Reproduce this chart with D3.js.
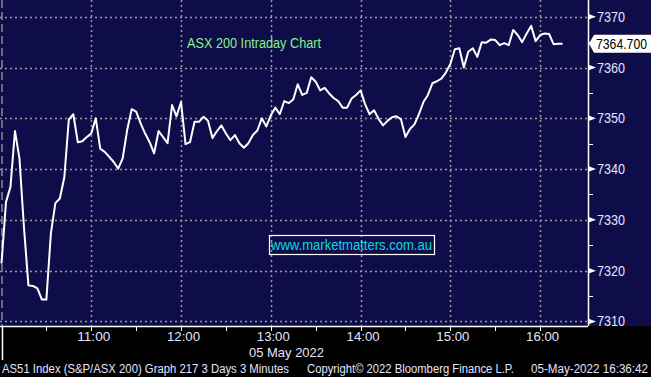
<!DOCTYPE html>
<html>
<head>
<meta charset="utf-8">
<script src="https://cdn.jsdelivr.net/npm/d3@7"></script>
<style>
  body { margin: 0; background: #000; }
  text { font-family: "Liberation Sans", Arial, sans-serif; }
</style>
</head>
<body>
<svg id="chart"></svg>
<script>
// 3 minute bars, 05 May 2022, starting 10:00
const startTime = "2022-05-05 10:00";
const stepMinutes = 3;
const closes = [
  7321.4, 7333.5, 7336.5, 7347.5, 7342.1, 7328.6, 7317.1, 7317.0, 7316.5, 7314.3,
  7314.3, 7327.3, 7333.3, 7334.2, 7338.4, 7349.8, 7350.8, 7345.3, 7345.5, 7346.3,
  7347.0, 7350.0, 7344.0, 7343.4, 7342.4, 7341.4, 7340.1, 7342.1, 7347.7, 7351.8,
  7351.3, 7349.0, 7347.0, 7345.3, 7343.1, 7347.5, 7346.3, 7345.1, 7352.6, 7350.4,
  7353.2, 7344.9, 7345.3, 7349.3, 7349.3, 7350.3, 7349.5, 7346.1, 7347.5, 7348.6,
  7347.0, 7345.7, 7346.7, 7345.1, 7344.2, 7345.1, 7346.7, 7347.6, 7350.0, 7348.4,
  7350.6, 7352.1, 7350.8, 7353.4, 7353.0, 7353.7, 7356.7, 7354.6, 7355.0, 7358.1,
  7357.2, 7355.5, 7356.0, 7354.9, 7354.0, 7353.4, 7352.1, 7352.1, 7353.9, 7354.6,
  7355.5, 7352.8, 7350.8, 7351.6, 7349.9, 7348.6, 7349.5, 7350.2, 7350.4, 7349.8,
  7346.3, 7347.9, 7348.8, 7350.8, 7353.2, 7354.6, 7356.9, 7357.3, 7357.8, 7359.0,
  7360.7, 7363.6, 7363.8, 7360.0, 7363.1, 7363.8, 7362.1, 7365.0, 7364.9, 7365.5,
  7365.4, 7364.4, 7364.8, 7364.4, 7367.4, 7366.4, 7365.0, 7366.7, 7368.2, 7365.2,
  7366.4, 7366.7, 7366.6, 7364.6, 7364.7, 7364.7
];

const yTicks = [7310, 7320, 7330, 7340, 7350, 7360, 7370];
const yMinorTicks = [7315, 7325, 7335, 7345, 7355, 7365];
const hourLabels = ["11:00", "12:00", "13:00", "14:00", "15:00", "16:00"];
const halfHours = ["10:30", "11:30", "12:30", "13:30", "14:30", "15:30"];
const dateLabel = "05 May 2022";
const title = "ASX 200 Intraday Chart";
const watermark = "www.marketmatters.com.au";
const footerLeft = "AS51 Index (S&P/ASX 200) Graph 217 3 Days 3 Minutes";
const footerMid = "Copyright\u00a9 2022 Bloomberg Finance L.P.";
const footerRight = "05-May-2022 16:36:42";

const W = 651, H = 377;
const plotW = 588, plotH = 326;

const parse = d3.timeParse("%Y-%m-%d %H:%M");
const parseHM = s => parse("2022-05-05 " + s);
const t0 = parse(startTime);
const data = closes.map((v, i) => ({ t: d3.timeMinute.offset(t0, i * stepMinutes), v }));

const svg = d3.select("#chart").attr("width", W).attr("height", H);

const x = d3.scaleTime()
    .domain([parseHM("09:59"), parseHM("16:32")])
    .range([0, plotW]);
const y = d3.scaleLinear()
    .domain([7309.1, 7373.3])
    .range([plotH, 0]);

// Bloomberg font is condensed: squeeze text to the given width
function squeeze(sel, w) {
    sel.attr("textLength", w).attr("lengthAdjust", "spacingAndGlyphs");
}

// backgrounds
svg.append("rect").attr("width", W).attr("height", H).attr("fill", "#000");
svg.append("rect").attr("width", W).attr("height", plotH).attr("fill", "#0f0d49");

// grid
const grid = svg.append("g").attr("stroke", "#9a9a9a").attr("stroke-width", 1.5)
    .attr("stroke-dasharray", "2,3");
grid.selectAll(".hg").data(yTicks).enter().append("line")
    .attr("x1", 0).attr("x2", plotW)
    .attr("y1", d => Math.round(y(d)) + 0.5).attr("y2", d => Math.round(y(d)) + 0.5);
grid.selectAll(".vg").data(hourLabels).enter().append("line")
    .attr("y1", 0).attr("y2", plotH)
    .attr("x1", d => Math.round(x(parseHM(d))) + 0.5).attr("x2", d => Math.round(x(parseHM(d))) + 0.5);

// session start marker
svg.append("line")
    .attr("x1", Math.round(x(t0)) + 1).attr("x2", Math.round(x(t0)) + 1)
    .attr("y1", 0).attr("y2", plotH)
    .attr("stroke", "#8a8a8a").attr("stroke-width", 1.5)
    .attr("stroke-dasharray", "8,4");

// title + watermark
svg.append("text").attr("x", 187).attr("y", 48)
    .attr("fill", "#86f086").style("font-size", "14px").text(title)
    .call(squeeze, 134);

svg.append("rect").attr("x", 269.5).attr("y", 235.5).attr("width", 165).attr("height", 19)
    .attr("fill", "none").attr("stroke", "#fff").attr("stroke-width", 1.2);
svg.append("text").attr("x", 271).attr("y", 250)
    .attr("fill", "#10d8e0").style("font-size", "14px").text(watermark)
    .call(squeeze, 161);

// price line
const line = d3.line().x(d => x(d.t)).y(d => y(d.v));
svg.append("path").datum(data)
    .attr("d", line)
    .attr("fill", "none")
    .attr("stroke", "#fff")
    .attr("stroke-width", 2)
    .attr("stroke-linejoin", "round");

// right axis
const yAxis = svg.append("g").attr("transform", `translate(${plotW},0)`);
yAxis.append("line").attr("x1", 0.5).attr("x2", 0.5).attr("y1", 0).attr("y2", plotH)
    .attr("stroke", "#fff").attr("stroke-width", 1.5);
yAxis.selectAll(".minor").data(yMinorTicks).enter().append("line")
    .attr("x1", 0).attr("x2", 5)
    .attr("y1", d => Math.round(y(d)) + 0.5).attr("y2", d => Math.round(y(d)) + 0.5)
    .attr("stroke", "#fff").attr("stroke-width", 1);
const ytick = yAxis.selectAll(".ytick").data(yTicks).enter().append("g")
    .attr("transform", d => `translate(0,${y(d)})`);
ytick.append("path").attr("d", "M0,-3L8,0L0,3Z").attr("fill", "#fff");
ytick.append("text").attr("x", 9).attr("dy", "0.36em")
    .attr("fill", "#e4e4ff").style("font-size", "14px").text(d => d)
    .call(squeeze, 28);

// last price label
const last = closes[closes.length - 1];
const ly = y(last);
svg.append("path")
    .attr("d", `M${plotW + 1},${ly} L${plotW + 6},${ly - 9} L${W},${ly - 9} L${W},${ly + 9} L${plotW + 6},${ly + 9} Z`)
    .attr("fill", "#fff");
svg.append("text").attr("x", plotW + 8).attr("y", ly).attr("dy", "0.36em")
    .attr("fill", "#000").style("font-size", "14px").text(last.toFixed(3))
    .call(squeeze, 51);

// bottom axis
const xAxis = svg.append("g").attr("transform", `translate(0,${plotH})`);
xAxis.append("line").attr("x1", 0).attr("x2", plotW).attr("y1", 0.5).attr("y2", 0.5)
    .attr("stroke", "#fff").attr("stroke-width", 1.5);
xAxis.selectAll(".xt").data(hourLabels.concat(halfHours)).enter().append("line")
    .attr("x1", d => Math.round(x(parseHM(d))) + 0.5).attr("x2", d => Math.round(x(parseHM(d))) + 0.5)
    .attr("y1", 0).attr("y2", 5)
    .attr("stroke", "#fff").attr("stroke-width", 1);
xAxis.selectAll(".xl").data(hourLabels).enter().append("text")
    .attr("x", d => x(parseHM(d)) - 14).attr("y", 15)
    .attr("fill", "#e4e4ff").style("font-size", "13px").text(d => d)
    .call(squeeze, 33);
// day divider
xAxis.append("line").attr("x1", Math.round(x(t0)) + 1.5).attr("x2", Math.round(x(t0)) + 1.5)
    .attr("y1", 0).attr("y2", 34).attr("stroke", "#fff").attr("stroke-width", 1.5);
svg.append("text").attr("x", 249).attr("y", 357)
    .attr("fill", "#e4e4ff").style("font-size", "13px").text(dateLabel)
    .call(squeeze, 75);

// footer
const foot = svg.append("g").attr("fill", "#e4e4ff").style("font-size", "12px");
foot.append("text").attr("x", 2).attr("y", 373).text(footerLeft).call(squeeze, 287);
foot.append("text").attr("x", 307).attr("y", 373).text(footerMid).call(squeeze, 207);
foot.append("text").attr("x", 531).attr("y", 373).text(footerRight).call(squeeze, 117);
</script>
</body>
</html>
